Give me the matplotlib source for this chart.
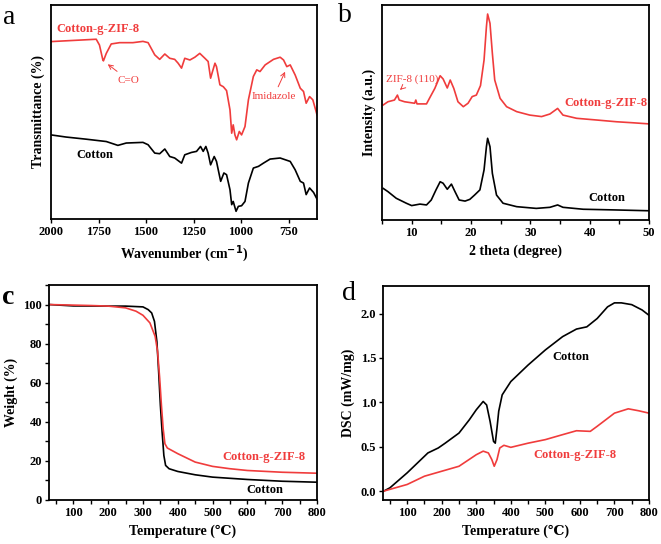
import matplotlib
matplotlib.use('Agg')
import matplotlib.pyplot as plt
from matplotlib.ticker import MultipleLocator
import numpy as np

plt.rcParams['font.family'] = ['Liberation Serif', 'DejaVu Serif']
plt.rcParams['font.weight'] = 'bold'
plt.rcParams['axes.labelweight'] = 'bold'

RED = '#f03c3c'
BLACK = '#000000'

# ---- panel a: FTIR ----
ftir_w_red = [2000, 1762, 1745, 1727, 1724, 1709, 1683, 1639, 1569, 1516, 1489, 1454, 1428, 1401,
              1375, 1349, 1331, 1313, 1296, 1269, 1243, 1217, 1190, 1173, 1160, 1150, 1137, 1129,
              1111, 1093, 1076, 1058, 1049, 1041, 1032, 1023, 1009, 997, 979, 961, 935, 917, 900,
              873, 829, 794, 776, 759, 741, 715, 688, 671, 657, 639, 622, 600]
ftir_t_red = [82.9, 84, 81.3, 74.3, 73.9, 77.4, 81.8, 82.4, 82.4, 83, 82.4, 76.7, 74.6, 77.1,
              75.1, 74.6, 72.8, 70.5, 75.1, 74.3, 75.6, 77.4, 75.1, 73.6, 65.8, 68.9, 72.8, 71.2,
              62.7, 61.8, 60, 51, 40.1, 44, 39.3, 37, 40.9, 39.3, 43.2, 55.7, 66.6, 69.7, 68.9,
              72, 74.6, 75.6, 74.3, 71.2, 72, 67.3, 61.1, 59.6, 54.1, 57.2, 55.7, 48.7]
ftir_w_blk = [2000, 1921, 1815, 1709, 1648, 1604, 1516, 1489, 1454, 1428, 1401, 1375, 1349, 1313,
              1296, 1261, 1234, 1213, 1199, 1185, 1173, 1160, 1141, 1129, 1107, 1090, 1076, 1058,
              1049, 1041, 1026, 1014, 997, 979, 961, 935, 908, 882, 847, 794, 741, 715, 688, 671,
              657, 639, 618, 600]
ftir_t_blk = [39.3, 38.3, 37.3, 36.2, 34.4, 35.5, 35.8, 34.7, 30.8, 30.5, 32.7, 29.2, 28.5, 26.1,
              30, 31.1, 31.6, 33.9, 31.6, 33.9, 30.8, 25.3, 29.2, 26.9, 17.6, 21.5, 20.7, 13.7,
              6.7, 8.2, 3.6, 5.9, 6.2, 8.2, 16.8, 23.8, 24.6, 26.1, 28, 28.5, 26.9, 23, 17.6, 16.8,
              11.4, 14.5, 12.4, 9.3]

# ---- panel b: XRD ----
xrd_2t_red = [5.2, 6.0, 7.1, 7.6, 7.9, 8.8, 10.5, 10.7, 10.9, 12.5, 13, 13.9, 14.8, 15.3, 16,
              16.5, 17.1, 17.8, 18.7, 19.5, 20.2, 20.9, 21.6, 22.2, 22.6, 22.8, 23.2, 23.6, 24.0,
              24.9, 26, 27.7, 29.9, 31.9, 33.3, 34.6, 35.5, 37.8, 41.2, 44.5, 47.4, 50]
xrd_i_red = [53.5, 55, 55.8, 58.1, 55.8, 55, 54.3, 55.8, 54, 54, 56.6, 61.2, 67.1, 65.6, 61.4,
             65.1, 61.2, 55, 52.7, 54.3, 57.4, 58.1, 62.5, 74.4, 89.9, 95.8, 91.5, 77.5, 65.1,
             56.6, 52.7, 50.4, 48.8, 48.1, 49.3, 51.9, 48.8, 47.3, 46.5, 45.7, 45.2, 44.7]
xrd_2t_blk = [5.2, 6, 7.4, 9.1, 10, 11.4, 12.5, 13.3, 14.1, 14.8, 15.3, 16, 16.7, 17.3, 18, 19,
              19.8, 20.6, 21.5, 22.2, 22.6, 22.8, 23.2, 23.6, 24.3, 25.4, 27.7, 31, 33.3, 34.6,
              35.5, 38.9, 44, 50]
xrd_i_blk = [14.7, 13.2, 10.1, 7.8, 6.7, 7.4, 7, 9.3, 14, 17.8, 17.1, 14.3, 16.7, 13.2, 9.3, 8.8,
             9.6, 11.6, 14, 23.3, 34.1, 38, 34.1, 21.7, 11.6, 7.8, 6.2, 5.4, 5.9, 7, 5.9, 5, 4.7,
             4.3]

# ---- panel c: TGA ----
tga_t_blk = [30, 100, 200, 250, 300, 315, 325, 333, 340, 345, 350, 355, 360, 365, 375, 400, 450,
             500, 600, 700, 800]
tga_w_blk = [100, 99.3, 99.2, 99.2, 98.8, 97.4, 95.7, 91.4, 81, 65.7, 48.5, 34.8, 22.8, 17.7, 16,
             14.6, 12.9, 11.7, 10.5, 9.6, 9.1]
tga_t_red = [30, 150, 200, 250, 280, 300, 320, 335, 342, 348, 353, 358, 363, 370, 400, 450, 500,
             550, 600, 700, 800]
tga_w_red = [100, 99.5, 99.2, 98.3, 96.6, 94.5, 90.6, 83.7, 76, 62.3, 48.5, 36.5, 28.8, 26.6,
             23.7, 19.4, 17.2, 16, 15.1, 14.2, 13.7]

# ---- panel d: DSC ----
dsc_t_blk = [32, 50, 100, 130, 160, 190, 210, 250, 280, 300, 320, 330, 340, 350, 355, 360, 365,
             375, 400, 450, 500, 550, 590, 620, 650, 680, 700, 720, 750, 780, 800]
dsc_v_blk = [0, 0.037, 0.206, 0.318, 0.43, 0.486, 0.54, 0.654, 0.804, 0.916, 1.01, 0.97, 0.785,
             0.56, 0.54, 0.71, 0.9, 1.084, 1.234, 1.42, 1.59, 1.74, 1.825, 1.85, 1.944, 2.075,
             2.12, 2.12, 2.1, 2.04, 1.98]
dsc_t_red = [32, 100, 150, 200, 250, 300, 320, 335, 345, 352, 360, 368, 380, 400, 450, 500, 550,
             590, 630, 650, 700, 740, 770, 800]
dsc_v_red = [0, 0.075, 0.168, 0.224, 0.28, 0.41, 0.45, 0.43, 0.355, 0.28, 0.355, 0.486, 0.516,
             0.493, 0.54, 0.58, 0.636, 0.68, 0.673, 0.73, 0.878, 0.927, 0.905, 0.878]

W, H = 661, 544
fig = plt.figure(figsize=(W / 100, H / 100), dpi=100)


def make_ax(l, r, t, b):
    ax = fig.add_axes([l / W, 1 - b / H, (r - l) / W, (b - t) / H])
    for s in ax.spines.values():
        s.set_linewidth(1.3)
    ax.tick_params(direction='out', length=3, width=1, labelsize=9, pad=2)
    ax.tick_params(which='minor', direction='out', length=3, width=1)
    return ax


lw = 1.2
lab = dict(fontsize=10, fontweight='bold')

# a
ax = make_ax(51, 317, 5, 219)
ax.plot(ftir_w_red, ftir_t_red, color=RED, lw=lw)
ax.plot(ftir_w_blk, ftir_t_blk, color=BLACK, lw=lw)
ax.set_xlim(2000, 600)
ax.set_ylim(0, 100)
ax.set_xticks([2000, 1750, 1500, 1250, 1000, 750])
ax.set_yticks([])
ax.set_xlabel('Wavenumber (cm$^{\\mathbf{-1}}$)', **lab)
ax.set_ylabel('Transmittance (%)', **lab)
ax.text(1974, 89, 'Cotton-g-ZIF-8', color=RED, fontsize=9, va='center')
ax.text(1864, 30, 'Cotton', color=BLACK, fontsize=9, va='center')
ax.annotate('C=O', xy=(1713, 73.1), xytext=(1648, 66.9), color=RED, fontsize=8,
            ha='left', va='top', fontweight='normal',
            arrowprops=dict(arrowstyle='->', color=RED, lw=0.7))
ax.annotate('Imidazole', xy=(762, 70), xytext=(828, 57.2), color=RED, fontsize=8,
            ha='center', va='center', fontweight='normal',
            arrowprops=dict(arrowstyle='->', color=RED, lw=0.7))
fig.text(3 / W, 1 - 17 / H, 'a', fontsize=20, fontweight='normal', va='center')

# b
ax = make_ax(382, 649, 5, 220)
ax.plot(xrd_2t_red, xrd_i_red, color=RED, lw=lw)
ax.plot(xrd_2t_blk, xrd_i_blk, color=BLACK, lw=lw)
ax.set_xlim(5, 50)
ax.set_ylim(0, 100)
ax.set_xticks([10, 20, 30, 40, 50])
ax.xaxis.set_minor_locator(MultipleLocator(5))
ax.set_yticks([])
ax.set_xlabel('2 theta (degree)', **lab)
ax.set_ylabel('Intensity (a.u.)', **lab)
ax.text(35.8, 54.3, 'Cotton-g-ZIF-8', color=RED, fontsize=9, va='center')
ax.text(39.8, 10.4, 'Cotton', color=BLACK, fontsize=9, va='center')
ax.annotate('ZIF-8 (110)', xy=(7.7, 59.7), xytext=(5.6, 65.4), color=RED, fontsize=8,
            ha='left', va='center', fontweight='normal',
            arrowprops=dict(arrowstyle='->', color=RED, lw=0.7))
fig.text(338 / W, 1 - 16 / H, 'b', fontsize=20, fontweight='normal', va='center')

# c
ax = make_ax(49, 317, 285, 500)
ax.plot(tga_t_blk, tga_w_blk, color=BLACK, lw=lw)
ax.plot(tga_t_red, tga_w_red, color=RED, lw=lw)
ax.set_xlim(30, 800)
ax.set_ylim(0, 110)
ax.set_xticks(range(100, 801, 100))
ax.set_yticks(range(0, 101, 20))
ax.xaxis.set_minor_locator(MultipleLocator(50))
ax.yaxis.set_minor_locator(MultipleLocator(10))
ax.set_xlabel('Temperature (\u2103)', **lab)
ax.set_ylabel('Weight (%)', **lab)
ax.text(529, 22, 'Cotton-g-ZIF-8', color=RED, fontsize=9, va='center')
ax.text(596, 5.3, 'Cotton', color=BLACK, fontsize=9, va='center')
fig.text(2 / W, 1 - 297 / H, 'c', fontsize=20, fontweight='bold', va='center')

# d
ax = make_ax(383, 649, 286, 500)
ax.plot(dsc_t_blk, dsc_v_blk, color=BLACK, lw=lw)
ax.plot(dsc_t_red, dsc_v_red, color=RED, lw=lw)
ax.set_xlim(30, 800)
ax.set_ylim(-0.1, 2.31)
ax.set_xticks(range(100, 801, 100))
ax.set_yticks([0.0, 0.5, 1.0, 1.5, 2.0])
ax.set_yticklabels(['0.0', '0.5', '1.0', '1.5', '2.0'])
ax.xaxis.set_minor_locator(MultipleLocator(50))
ax.set_xlabel('Temperature (\u2103)', **lab)
ax.set_ylabel('DSC (mW/mg)', **lab)
ax.text(521, 1.514, 'Cotton', color=BLACK, fontsize=9, va='center')
ax.text(466, 0.41, 'Cotton-g-ZIF-8', color=RED, fontsize=9, va='center')
fig.text(342 / W, 1 - 294 / H, 'd', fontsize=20, fontweight='normal', va='center')

fig.savefig('out.png', dpi=100)
